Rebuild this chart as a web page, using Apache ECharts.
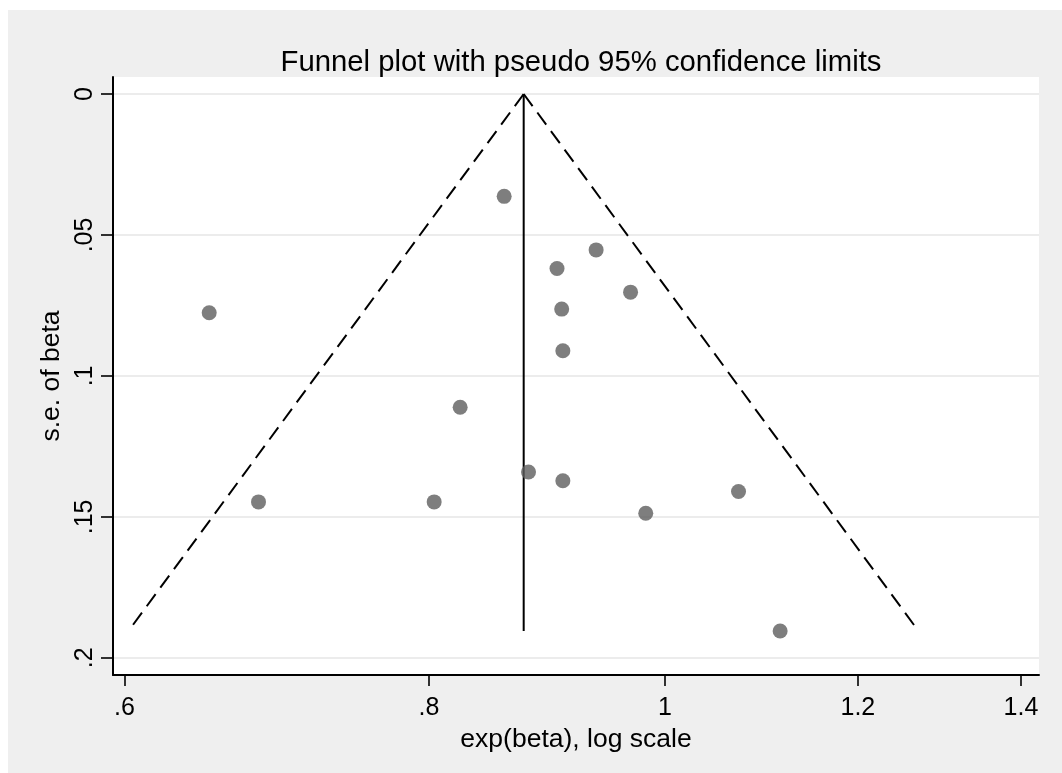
<!DOCTYPE html>
<html>
<head>
<meta charset="utf-8">
<script src="https://cdn.jsdelivr.net/npm/echarts@6/dist/echarts.min.js"></script>
<style>
	html, body { margin: 0; padding: 0; background: #efefef; }
	#chart { width: 1062px; height: 773px; }
</style>
</head>
<body>
<div id="chart"></div>
<script>
// tick marks
var xTicks = [0.6, 0.8, 1, 1.2, 1.4];
var xTickLabels = ['.6', '.8', '1', '1.2', '1.4'];
var yTicks = [0, 0.05, 0.1, 0.15, 0.2];
var yTickLabels = ['0', '.05', '.1', '.15', '.2'];

// studies: exp(beta) and s.e. of beta
var studyEffect = [0.859, 0.937, 0.903, 0.968, 0.907, 0.908, 0.824, 0.879, 0.908, 0.804, 0.982, 1.115, 0.650, 0.681, 1.072];
var studySe = [0.0363, 0.0553, 0.0619, 0.0703, 0.0763, 0.0911, 0.1111, 0.1341, 0.1372, 0.1447, 0.1487, 0.1905, 0.0776, 0.1447, 0.1410];

// pooled estimate line
var pooledEffect = [0.875, 0.875];
var pooledSe = [0, 0.1905];

// pseudo 95% limits (ends)
var lowerLimit = [0.875, 0.604];
var upperLimit = [0.875, 1.267];
var limitSe = [0, 0.189];

var font = '"Liberation Sans", Arial, sans-serif';

function toLog(xs, ys) { //log x for the plot
	var out = [];
	for(var i = 0; i < xs.length; i++) {
		out.push([Math.log(xs[i]), ys[i]]);
	}
	return out;
}

function pickLabel(v, ticks, labels, useLog) {
	for(var i = 0; i < ticks.length; i++) {
		var t = useLog ? Math.log(ticks[i]) : ticks[i];
		if(Math.abs(t - v) < 1e-6) return labels[i];
	}
	return '';
}

var chart = echarts.init(document.getElementById('chart'));
var option = {
	backgroundColor: '#efefef',
	animation: false,
	graphic: [
		{ type: 'rect', shape: { x: 0, y: 0, width: 1062, height: 10 }, style: { fill: '#ffffff' }, z: -10 },
		{ type: 'rect', shape: { x: 0, y: 0, width: 8, height: 773 }, style: { fill: '#ffffff' }, z: -10 }
	],
	title: {
		text: 'Funnel plot with pseudo 95% confidence limits',
		left: 576,
		textAlign: 'center',
		top: 43,
		textStyle: { fontFamily: font, fontSize: 29.3, fontWeight: 'normal', color: '#000000' }
	},
	grid: {
		left: 113,
		right: 23,
		top: 77,
		bottom: 98,
		show: true,
		backgroundColor: '#ffffff',
		borderWidth: 0
	},
	xAxis: {
		type: 'value',
		min: Math.log(0.5935),
		max: Math.log(1.4241),
		name: 'exp(beta), log scale',
		nameLocation: 'middle',
		nameGap: 45,
		nameTextStyle: { fontFamily: font, fontSize: 26.5, color: '#000000' },
		axisLine: { onZero: false, lineStyle: { color: '#000000', width: 2 } },
		axisTick: {
			length: 11,
			customValues: xTicks.map(Math.log),
			lineStyle: { color: '#000000', width: 1.6 }
		},
		axisLabel: {
			customValues: xTicks.map(Math.log),
			margin: 21,
			fontFamily: font,
			fontSize: 25,
			color: '#000000',
			formatter: function(v) { return pickLabel(v, xTicks, xTickLabels, true); }
		},
		splitLine: { show: false }
	},
	yAxis: {
		type: 'value',
		inverse: true,
		min: -0.00603,
		max: 0.2061,
		name: 's.e. of beta',
		nameLocation: 'middle',
		nameGap: 42,
		nameTextStyle: { fontFamily: font, fontSize: 26.5, color: '#000000' },
		axisLine: { show: true, onZero: false, lineStyle: { color: '#000000', width: 2 } },
		axisTick: {
			show: true,
			length: 12,
			customValues: yTicks,
			lineStyle: { color: '#000000', width: 1.6 }
		},
		axisLabel: {
			customValues: yTicks,
			rotate: 90,
			margin: 15,
			fontFamily: font,
			fontSize: 25,
			color: '#000000',
			formatter: function(v) { return pickLabel(v, yTicks, yTickLabels, false); }
		},
		splitLine: { show: true, lineStyle: { color: '#e6e6e6', width: 1.5 } }
	},
	series: [{
		type: 'line',
		data: toLog(lowerLimit, limitSe),
		symbol: 'none',
		lineStyle: { color: '#000000', width: 2, type: [15, 8] },
		silent: true
	}, {
		type: 'line',
		data: toLog(upperLimit, limitSe),
		symbol: 'none',
		lineStyle: { color: '#000000', width: 2, type: [15, 8] },
		silent: true
	}, {
		type: 'line',
		data: toLog(pooledEffect, pooledSe),
		symbol: 'none',
		lineStyle: { color: '#000000', width: 2 },
		silent: true
	}, {
		type: 'scatter',
		data: toLog(studyEffect, studySe),
		symbol: 'circle',
		symbolSize: 15,
		itemStyle: { color: '#5e5e5e' },
		z: 5
	}]
};
chart.setOption(option);
</script>
</body>
</html>
